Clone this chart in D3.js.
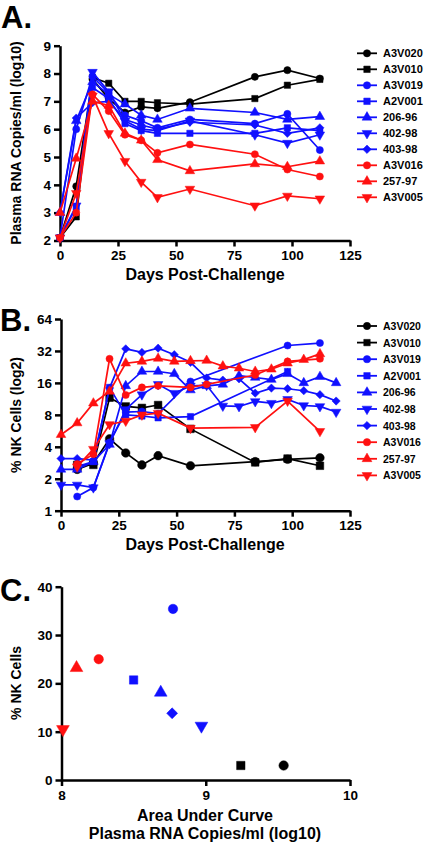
<!DOCTYPE html>
<html><head><meta charset="utf-8">
<script src="https://cdn.jsdelivr.net/npm/d3@7"></script>
<style>
body{margin:0;background:#fff;}
svg text{font-family:"Liberation Sans",Arial,Helvetica,sans-serif;font-weight:bold;fill:#000;}
</style></head><body>
<svg id="c" width="425" height="843"></svg>
<script>
// ---------- DATA ----------
const seriesNames = ["A3V020","A3V010","A3V019","A2V001","206-96","402-98","403-98","A3V016","257-97","A3V005"];
const seriesColors = ["black","black","blue","blue","blue","blue","blue","red","red","red"];
const seriesShapes = ["circle","square","circle","square","triUp","triDown","diamond","circle","triUp","triDown"];

// Panel A: plasma RNA (log10) by day
const daysA = [0,7,14,21,28,35,42,56,84,98,112];
const rnaA3V020 = [2.1,3.95,7.8,7.1,6.6,6.8,6.75,6.97,7.88,8.12,7.82];
const rnaA3V010 = [2.1,2.85,7.85,7.65,7.0,7.0,6.95,6.9,7.1,7.58,7.79];
const rnaA3V019 = [2.1,6.0,7.9,7.3,6.5,6.3,6.05,6.35,6.2,6.55,5.25];
const rnaA2V001 = [2.1,3.2,7.5,7.1,6.2,5.95,5.85,5.85,5.85,6.05,5.95];
const rna20696  = [3.0,6.3,7.7,7.25,6.9,6.5,6.35,6.75,6.6,6.35,6.45];
const rna40298  = [2.1,3.25,8.05,7.35,6.3,6.0,5.95,6.3,5.8,5.5,5.8];
const rna40398  = [3.0,6.4,6.95,7.0,6.35,6.15,6.0,6.25,6.15,5.85,6.05];
const rnaA3V016 = [2.1,3.0,7.25,6.65,5.8,5.6,5.15,5.45,5.1,4.55,4.3];
const rna25797  = [3.0,4.95,7.0,6.85,5.85,5.6,4.9,4.5,4.75,4.65,4.85];
const rnaA3V005 = [2.1,3.7,7.2,5.85,4.85,4.1,3.55,3.85,3.25,3.6,3.5];
const rnaSeries = [rnaA3V020,rnaA3V010,rnaA3V019,rnaA2V001,rna20696,rna40298,rna40398,rnaA3V016,rna25797,rnaA3V005];

// Panel B: % NK cells (log2) by day (null = not measured)
const daysB = [0,7,14,21,28,35,42,49,56,63,70,77,84,91,98,105,112,119];
const nkA3V020 = [null,2.45,2.8,4.75,3.5,2.7,3.3,null,2.65,null,null,null,2.9,null,3.05,null,3.15,null];
const nkA3V010 = [null,2.7,2.7,11.6,9.6,9.3,9.9,null,5.9,null,null,null,2.85,null,3.1,null,2.65,null];
const nkA3V019 = [null,1.36,1.65,4.4,8.5,8.6,8.2,null,16.5,null,null,null,null,null,36,null,38,null];
const nkA2V001 = [null,2.6,2.9,14.5,8.0,7.8,7.5,null,7.7,null,null,null,null,null,20.5,null,null,null];
const nk20696  = [2.45,2.45,2.9,4.2,15,20.5,20.5,19.5,13.7,15,15.5,18.7,18,17.2,19.5,16,18.3,16];
const nk40298  = [1.75,1.75,1.65,4.3,9,12.4,15.5,12.8,15,15.2,9.7,9.6,10.7,10.3,11.2,9.8,9.6,8.5];
const nk40398  = [3.1,3.1,3.0,14.3,33.5,31,34,29.5,25,17.8,17,17.5,12.8,14.3,14.1,13.5,12.4,10.8];
const nkA3V016 = [null,2.75,3.4,27,12.3,14.5,15,null,14.5,15.5,null,null,19,null,25.5,null,27,null];
const nk25797  = [5.2,6.7,10.3,13.3,24.5,25.5,27.2,25.5,25.8,26,23,22,20.5,21.5,24.5,26.5,30,null];
const nkA3V005 = [null,2.6,3.8,6.5,7.0,8.0,8.3,null,6.0,null,null,null,6.1,null,10.8,null,5.6,null];
const nkSeries = [nkA3V020,nkA3V010,nkA3V019,nkA2V001,nk20696,nk40298,nk40398,nkA3V016,nk25797,nkA3V005];

// Panel C: AUC vs %NK
const aucValues = [9.54,9.243,8.773,8.50,8.688,8.97,8.767,8.258,8.104,8.01];
const nkCValues = [3.0,3.0,35.4,20.7,18.1,11.2,13.8,25.0,23.2,10.5];

// Tick labels
const ticksAx = [0,25,50,75,100,125];
const ticksAy = [2,3,4,5,6,7,8,9];
const ticksBy = [1,2,4,8,16,32,64];
const ticksCx = [8,9,10];
const ticksCy = [0,10,20,30,40];

// ---------- DRAWING ----------
const svg = d3.select("#c");
const COL = {black:"#000000", blue:"#1010ff", red:"#ff1010"};
const FONT = '"Liberation Sans",Arial,Helvetica,sans-serif';

function symPath(shape, size){
  const t = shape==="circle"?d3.symbolCircle:(shape==="square"||shape==="diamond")?d3.symbolSquare:d3.symbolTriangle;
  return d3.symbol().type(t).size(shape==="diamond"?size*0.85:size)();
}
function symRot(shape){ return shape==="triDown"?180:shape==="diamond"?45:0; }
function drawSym(g, shape, color, x, y, size){
  g.append("path").attr("d", symPath(shape,size))
   .attr("transform",`translate(${x},${y}) rotate(${symRot(shape)})`)
   .attr("fill", COL[color]).attr("stroke", COL[color]).attr("stroke-width",0.5);
}
function styleAxis(g){
  g.attr("font-family",null).attr("font-size",null);
  g.selectAll("path.domain").attr("stroke","#000").attr("stroke-width",2.5);
  g.selectAll(".tick line").attr("stroke","#000").attr("stroke-width",2.5);
  g.selectAll(".tick text").attr("font-size",13.5).attr("font-family",FONT).attr("font-weight","bold").attr("fill","#000");
}
function label(txt,x,y,size,anchor,rot){
  const t = svg.append("text").attr("x",x).attr("y",y).attr("font-size",size)
    .attr("text-anchor",anchor||"middle").text(txt);
  if(rot) t.attr("transform",`rotate(${rot},${x},${y})`);
  return t;
}
function legend(y0, step, fs){
  const g = svg.append("g");
  seriesNames.forEach((n,i)=>{
    const y = y0 + i*step;
    g.append("line").attr("x1",357).attr("x2",377).attr("y1",y).attr("y2",y)
      .attr("stroke",COL[seriesColors[i]]).attr("stroke-width",1.8);
    drawSym(g, seriesShapes[i], seriesColors[i], 367, y, 42);
    g.append("text").attr("x",383).attr("y",y+4).attr("font-size",fs).text(n);
  });
}

// ===== Panel A =====
const xA = d3.scaleLinear().domain([0,125]).range([60,350]);
const yA = d3.scaleLinear().domain([2,9]).range([240.5,45.7]);
svg.append("g").attr("transform",`translate(0,${yA(2)})`)
  .call(d3.axisBottom(xA).tickValues(ticksAx).tickSize(6).tickSizeOuter(0).tickPadding(4)).call(styleAxis);
svg.append("g").attr("transform",`translate(${xA(0)},0)`)
  .call(d3.axisLeft(yA).tickValues(ticksAy).tickFormat(d3.format("d")).tickSize(6).tickSizeOuter(0).tickPadding(3)).call(styleAxis);
const lineA = d3.line().x(d=>xA(d[0])).y(d=>yA(d[1]));
const gA = svg.append("g");
rnaSeries.forEach((vals,i)=>{
  const pts = daysA.map((d,j)=>[d,vals[j]]).filter(p=>p[1]!=null);
  gA.append("path").attr("d",lineA(pts)).attr("fill","none")
    .attr("stroke",COL[seriesColors[i]]).attr("stroke-width",1.7);
  pts.forEach(p=>drawSym(gA, seriesShapes[i], seriesColors[i], xA(p[0]), yA(p[1]), 40));
});
label("A.",1,28,31,"start");
label("Days Post-Challenge",205,280,16);
label("Plasma RNA Copies/ml (log10)",21,143,14,"middle",-90);
legend(53.3,16,11);

// ===== Panel B =====
const xB = d3.scaleLinear().domain([0,125]).range([61,350]);
const yB = d3.scaleLog().base(2).domain([1,64]).range([510.7,319]);
svg.append("g").attr("transform",`translate(0,${yB(1)})`)
  .call(d3.axisBottom(xB).tickValues(ticksAx).tickSize(6).tickSizeOuter(0).tickPadding(4)).call(styleAxis);
svg.append("g").attr("transform",`translate(${xB(0)},0)`)
  .call(d3.axisLeft(yB).tickValues(ticksBy).tickFormat(d3.format("d")).tickSize(6).tickSizeOuter(0).tickPadding(3)).call(styleAxis);
const lineB = d3.line().x(d=>xB(d[0])).y(d=>yB(d[1]));
const gB = svg.append("g");
nkSeries.forEach((vals,i)=>{
  const pts = daysB.map((d,j)=>[d,vals[j]]).filter(p=>p[1]!=null);
  gB.append("path").attr("d",lineB(pts)).attr("fill","none")
    .attr("stroke",COL[seriesColors[i]]).attr("stroke-width",1.7);
  pts.forEach(p=>drawSym(gB, seriesShapes[i], seriesColors[i], xB(p[0]), yB(p[1]), i<2?58:40));
});
label("B.",0,331,31,"start");
label("Days Post-Challenge",205,550,16);
label("% NK Cells (log2)",21,415,14,"middle",-90);
legend(326,16.6,10.5);

// ===== Panel C =====
const xC = d3.scaleLinear().domain([8,10]).range([61.5,350]);
const yC = d3.scaleLinear().domain([0,40]).range([780,586.7]);
svg.append("g").attr("transform",`translate(0,${yC(0)})`)
  .call(d3.axisBottom(xC).tickValues(ticksCx).tickFormat(d3.format("d")).tickSize(6).tickSizeOuter(0).tickPadding(4)).call(styleAxis);
svg.append("g").attr("transform",`translate(${xC(8)},0)`)
  .call(d3.axisLeft(yC).tickValues(ticksCy).tickSize(6).tickSizeOuter(0).tickPadding(3)).call(styleAxis);
const gC = svg.append("g");
aucValues.forEach((v,i)=>{
  drawSym(gC, seriesShapes[i], seriesColors[i], xC(v), yC(nkCValues[i]), 70);
});
label("C.",0,601,31,"start");
label("Area Under Curve",205,821,16);
label("Plasma RNA Copies/ml (log10)",205,839,16);
label("% NK Cells",21,683,14,"middle",-90);
</script>
</body></html>
